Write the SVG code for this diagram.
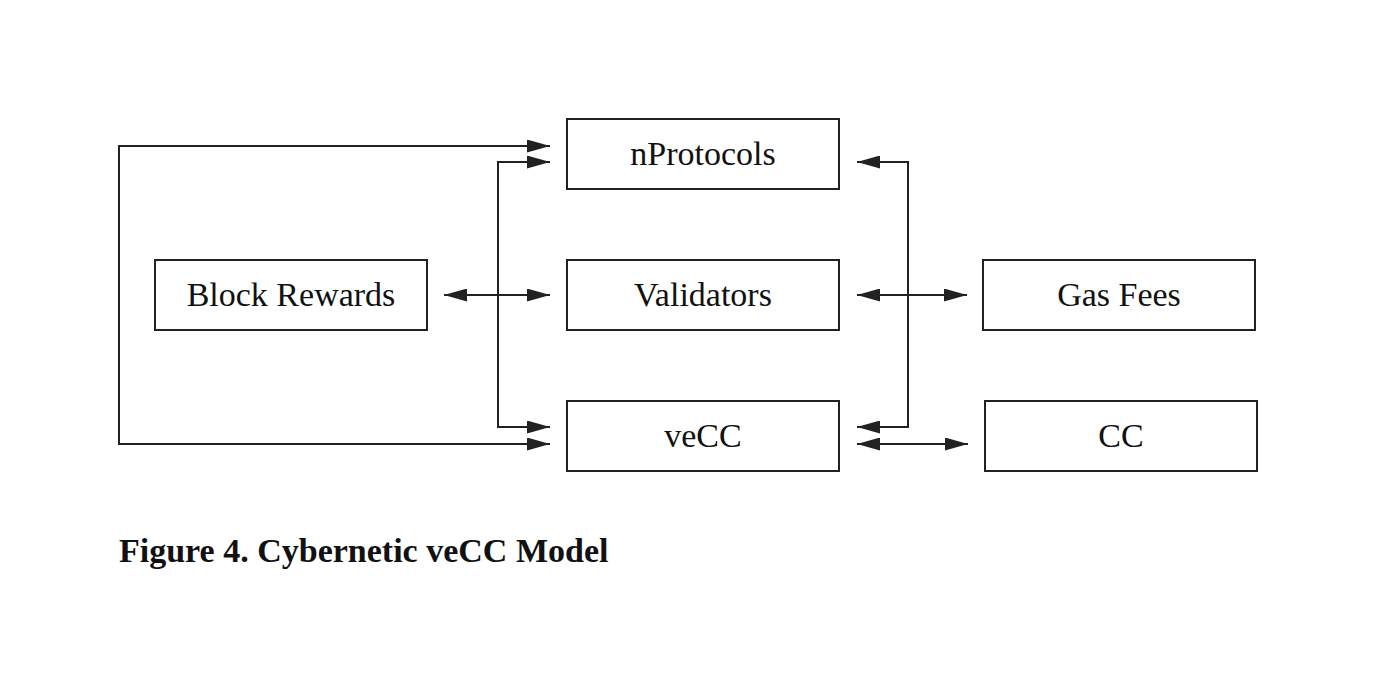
<svg xmlns="http://www.w3.org/2000/svg" width="1376" height="697" viewBox="0 0 1376 697">
<defs>
<marker id="ah" viewBox="0 0 23 13" refX="23" refY="6.5" markerWidth="23" markerHeight="13" markerUnits="userSpaceOnUse" orient="auto-start-reverse">
<path d="M0,0 L23,6.5 L0,13 z" fill="#222"/>
</marker>
<style>
.box{fill:#fff;stroke:#222;stroke-width:2}
.lbl{font-family:"Liberation Serif","Times New Roman",serif;font-size:34px;fill:#111;text-anchor:middle}
.cap{font-family:"Liberation Serif","Times New Roman",serif;font-size:34px;font-weight:bold;fill:#111}
.con{fill:none;stroke:#222;stroke-width:2}
</style>
</defs>
<rect width="1376" height="697" fill="#fff"/>
<g id="connectors">
<path class="con" d="M550,146 H119 V444 H550" marker-start="url(#ah)" marker-end="url(#ah)"/>
<path class="con" d="M550,162 H498 V427 H550" marker-start="url(#ah)" marker-end="url(#ah)"/>
<path class="con" d="M444,295 H550" marker-start="url(#ah)" marker-end="url(#ah)"/>
<path class="con" d="M857,162 H908 V427 H857" marker-start="url(#ah)" marker-end="url(#ah)"/>
<path class="con" d="M857,295 H967" marker-start="url(#ah)" marker-end="url(#ah)"/>
<path class="con" d="M857,444 H968" marker-start="url(#ah)" marker-end="url(#ah)"/>
</g>
<g id="nProtocols"><rect class="box" x="567" y="119" width="272" height="70"/><text class="lbl" x="703" y="165">nProtocols</text></g>
<g id="Validators"><rect class="box" x="567" y="260" width="272" height="70"/><text class="lbl" x="703" y="306">Validators</text></g>
<g id="veCC"><rect class="box" x="567" y="401" width="272" height="70"/><text class="lbl" x="703" y="447">veCC</text></g>
<g id="BlockRewards"><rect class="box" x="155" y="260" width="272" height="70"/><text class="lbl" x="291" y="306">Block Rewards</text></g>
<g id="GasFees"><rect class="box" x="983" y="260" width="272" height="70"/><text class="lbl" x="1119" y="306">Gas Fees</text></g>
<g id="CC"><rect class="box" x="985" y="401" width="272" height="70"/><text class="lbl" x="1121" y="447">CC</text></g>
<text class="cap" x="119" y="562">Figure 4. Cybernetic veCC Model</text>
</svg>
